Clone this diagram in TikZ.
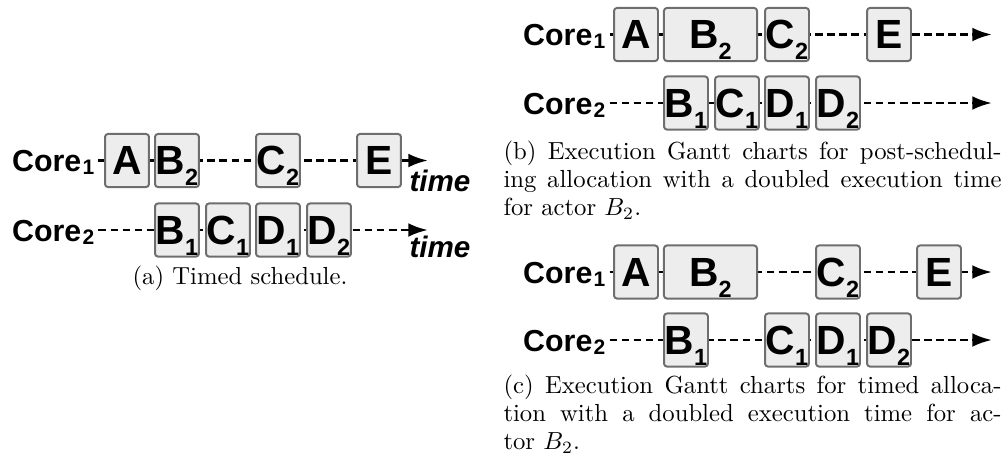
\documentclass[tikz,border=0pt]{standalone}
\usepackage{fontspec}
\setsansfont{Liberation Sans}
\usepackage{tikz}
\usetikzlibrary{arrows.meta,positioning}
\definecolor{jobfill}{HTML}{EDEDED}
\definecolor{jobline}{HTML}{6E6E6E}
% actor name with a lowered index
\newcommand{\actor}[2]{#1\smash{\raisebox{-4.6pt}{\fontsize{9.5}{9.5}\selectfont #2}}}
\newcommand{\corelbl}[1]{Core\kern0.5pt\smash{\raisebox{-1.2pt}{\fontsize{8.5}{8.5}\selectfont #1}}}

\begin{document}
\begin{tikzpicture}[x=0.405pt, y=-0.405pt,
			job/.style={draw=jobline, fill=jobfill, line width=0.8pt,
				rounded corners=1.2pt, inner sep=0pt,
				minimum width=17.8pt, minimum height=21.5pt,
				text height=11.4pt, text depth=0pt,
				font=\sffamily\bfseries\fontsize{16.5}{16.5}\selectfont},
			longjob/.style={job, minimum width=37.7pt},
			core/.style={anchor=west, inner xsep=1.5pt, inner ysep=0pt,
				text height=9pt, text depth=0pt,
				font=\sffamily\bfseries\fontsize{12.3}{12.3}\selectfont},
			timeline/.style={line width=1.15pt, dash pattern=on 3.1pt off 1.8pt,
				-{Latex[length=8pt, width=5.6pt]}},
			timelbl/.style={anchor=base west, inner sep=0pt,
				font=\sffamily\bfseries\itshape\fontsize{12}{12}\selectfont},
			caption/.style={inner sep=0pt, font=\fontsize{10}{11.3}\selectfont}
		]
		\useasboundingbox (0,0) rectangle (1005,458);

		% (a) timed schedule
		\node[core] (a1) at (8,160.5) {\corelbl{1}};
		\node[core] (a2) at (8,230) {\corelbl{2}};
		\coordinate (a1end) at (428,160.5);
		\coordinate (a2end) at (428,230);
		\draw[timeline] (a1.east) -- (a1end);
		\draw[timeline] (a2.east) -- (a2end);
		\node[job] (a1A) at (127,160.5) {A};
		\node[job] (a1B2) at (177,160.5) {\actor{B}{2}};
		\node[job] (a1C2) at (278,160.5) {\actor{C}{2}};
		\node[job] (a1E) at (379,160.5) {E};
		\node[job] (a2B1) at (177,230) {\actor{B}{1}};
		\node[job] (a2C1) at (228,230) {\actor{C}{1}};
		\node[job] (a2D1) at (278,230) {\actor{D}{1}};
		\node[job] (a2D2) at (329,230) {\actor{D}{2}};
		\node[timelbl] (a1time) at (409,191) {time};
		\node[timelbl] (a2time) at (409,257) {time};
		\node[caption, anchor=base] (capa) at (240,284) {(a) Timed schedule.};

		% (b) post-scheduling allocation
		\node[core] (b1) at (519,34.5) {\corelbl{1}};
		\node[core] (b2) at (519,103) {\corelbl{2}};
		\coordinate (b1end) at (992,34.5);
		\coordinate (b2end) at (992,103);
		\draw[timeline] (b1.east) -- (b1end);
		\draw[timeline] (b2.east) -- (b2end);
		\node[job] (b1A) at (636,34.5) {A};
		\node[longjob] (b1B2) at (710.5,34.5) {\actor{B}{2}};
		\node[job] (b1C2) at (787,34.5) {\actor{C}{2}};
		\node[job] (b1E) at (889,34.5) {E};
		\node[job] (b2B1) at (686,103) {\actor{B}{1}};
		\node[job] (b2C1) at (737,103) {\actor{C}{1}};
		\node[job] (b2D1) at (787,103) {\actor{D}{1}};
		\node[job] (b2D2) at (838,103) {\actor{D}{2}};
		\node[caption, anchor=north west, text width=201.7pt, align=justify] (capb) at (503,140.5)
			{(b) Execution Gantt charts for post-schedul-\linebreak ing allocation with a doubled execution time\linebreak for actor $B_2$.};

		% (c) timed allocation
		\node[core] (c1) at (519,272) {\corelbl{1}};
		\node[core] (c2) at (519,340) {\corelbl{2}};
		\coordinate (c1end) at (992,272);
		\coordinate (c2end) at (992,340);
		\draw[timeline] (c1.east) -- (c1end);
		\draw[timeline] (c2.east) -- (c2end);
		\node[job] (c1A) at (636,272) {A};
		\node[longjob] (c1B2) at (710.5,272) {\actor{B}{2}};
		\node[job] (c1C2) at (838,272) {\actor{C}{2}};
		\node[job] (c1E) at (939,272) {E};
		\node[job] (c2B1) at (686,340) {\actor{B}{1}};
		\node[job] (c2C1) at (787,340) {\actor{C}{1}};
		\node[job] (c2D1) at (838,340) {\actor{D}{1}};
		\node[job] (c2D2) at (889,340) {\actor{D}{2}};
		\node[caption, anchor=north west, text width=201.7pt, align=justify] (capc) at (503,374.5)
			{(c) Execution Gantt charts for timed alloca-\linebreak tion with a doubled execution time for ac-\linebreak tor $B_2$.};
	\end{tikzpicture}
\end{document}
